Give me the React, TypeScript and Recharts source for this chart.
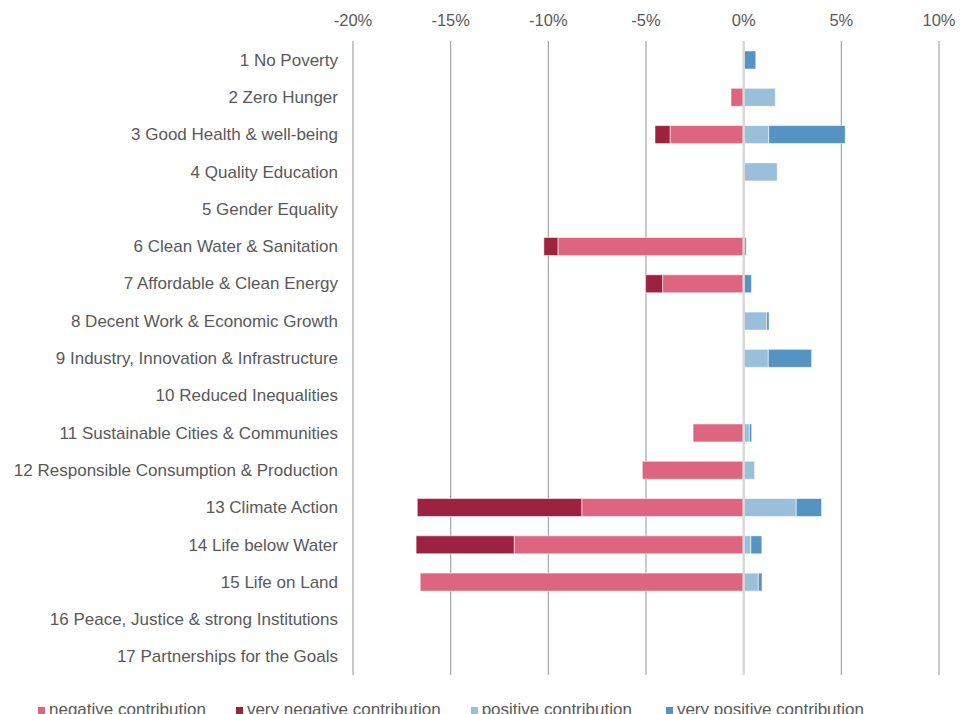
import {
  BarChart, Bar, XAxis, YAxis, CartesianGrid, Legend, ReferenceLine,
} from "recharts";

const goals = [
  "1 No Poverty",
  "2 Zero Hunger",
  "3 Good Health & well-being",
  "4 Quality Education",
  "5 Gender Equality",
  "6 Clean Water & Sanitation",
  "7 Affordable & Clean Energy",
  "8 Decent Work & Economic Growth",
  "9 Industry, Innovation & Infrastructure",
  "10 Reduced Inequalities",
  "11 Sustainable Cities & Communities",
  "12 Responsible Consumption & Production",
  "13 Climate Action",
  "14 Life below Water",
  "15 Life on Land",
  "16 Peace, Justice & strong Institutions",
  "17 Partnerships for the Goals",
];

// contributions in %
const negative = [0, -0.65, -3.77, 0, 0, -9.51, -4.15, 0, 0, 0, -2.59, -5.19, -8.29, -11.75, -16.56, 0, 0];
const veryNegative = [0, 0, -0.77, 0, 0, -0.72, -0.87, 0, 0, 0, 0, 0, -8.42, -5.02, 0, 0, 0];
const positive = [0, 1.62, 1.28, 1.72, 0, 0, 0, 1.18, 1.26, 0, 0.29, 0.56, 2.69, 0.37, 0.75, 0, 0];
const veryPositive = [0.62, 0, 3.92, 0, 0, 0.13, 0.4, 0.12, 2.22, 0, 0.12, 0, 1.3, 0.56, 0.19, 0, 0];

const xTicks = [-20, -15, -10, -5, 0, 5, 10];

const series = [
  { key: "negative", name: "negative contribution", color: "#dd6580" },
  { key: "veryNegative", name: "very negative contribution", color: "#9b233f" },
  { key: "positive", name: "positive contribution", color: "#9abfdb" },
  { key: "veryPositive", name: "very positive contribution", color: "#5593c2" },
];

const data = goals.map((name, i) => ({
  name,
  negative: negative[i],
  veryNegative: veryNegative[i],
  positive: positive[i],
  veryPositive: veryPositive[i],
}));

const FONT = '"Liberation Sans", Arial, sans-serif';
const TEXT = "#595959";

const LegendContent = () => (
  <div
    style={{
      height: 39,
      display: "flex",
      alignItems: "flex-end",
      paddingLeft: 38,
      fontFamily: FONT,
      fontSize: 17,
      color: TEXT,
      lineHeight: "20px",
      boxSizing: "border-box",
      position: "relative",
      top: 6,
    }}
  >
    {series.map((s, i) => (
      <span
        key={s.key}
        style={{ display: "flex", alignItems: "center", whiteSpace: "nowrap", marginLeft: i === 0 ? 0 : i === 3 ? 34 : 30 }}
      >
        <span style={{ width: 7, height: 7, background: s.color, marginRight: 4, display: "inline-block" }} />
        {s.name}
      </span>
    ))}
  </div>
);

export default function App() {
  return (
    <div style={{ position: "absolute", left: 0, top: 0, background: "#fff" }}>
      <BarChart
        width={970}
        height={714}
        data={data}
        layout="vertical"
        stackOffset="sign"
        margin={{ top: 0, right: 31, bottom: 0, left: 0 }}
      >
        <CartesianGrid horizontal={false} stroke="#a6a6a6" strokeWidth={1.2} />
        <XAxis
          type="number"
          orientation="top"
          domain={[-20, 10]}
          ticks={xTicks}
          tickFormatter={(v) => `${v}%`}
          axisLine={false}
          tickLine={false}
          tickSize={0}
          tickMargin={15}
          height={41}
          tick={{ fontSize: 16.5, fill: TEXT, fontFamily: FONT }}
        />
        <YAxis
          type="category"
          dataKey="name"
          width={353}
          axisLine={false}
          tickLine={false}
          tickSize={0}
          tickMargin={15}
          interval={0}
          tick={{ fontSize: 17, fill: TEXT, fontFamily: FONT }}
        />
        <ReferenceLine x={0} stroke="#d9d9d9" strokeWidth={2.5} />
        <Legend verticalAlign="bottom" content={<LegendContent />} wrapperStyle={{ left: 0, width: 970 }} />
        {series.map((s) => (
          <Bar
            key={s.key}
            dataKey={s.key}
            name={s.name}
            stackId="a"
            fill={s.color}
            barSize={18}
            stroke="#ffffff"
            strokeOpacity={0.55}
            strokeWidth={1}
            isAnimationActive={false}
          />
        ))}
      </BarChart>
    </div>
  );
}
